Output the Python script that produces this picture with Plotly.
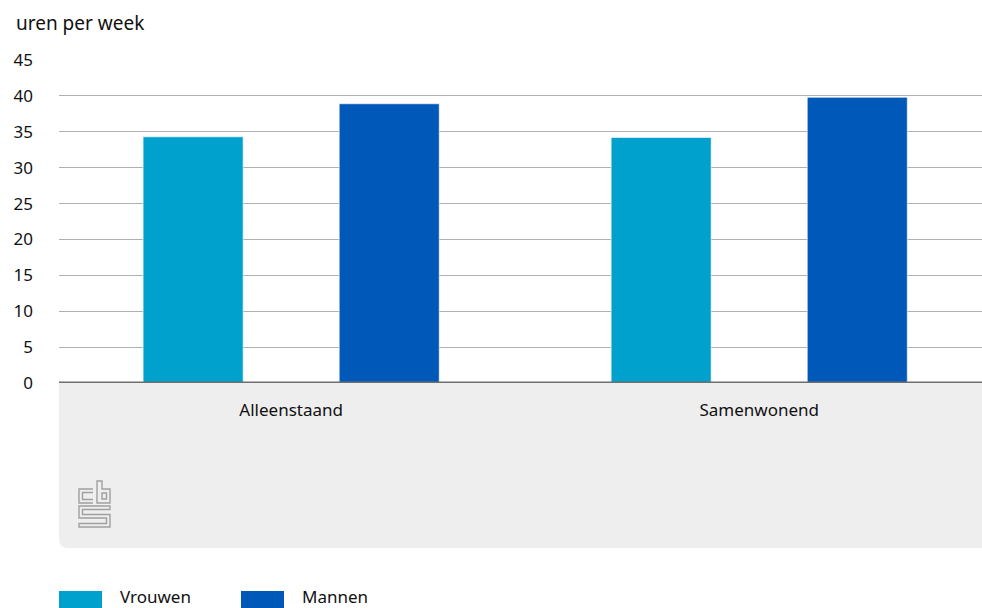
import plotly.graph_objects as go

categories = ["Alleenstaand", "Samenwonend"]
vrouwen = [34.3, 34.2]
mannen = [38.9, 39.8]
series_names = ["Vrouwen", "Mannen"]
y_ticks = [0, 5, 10, 15, 20, 25, 30, 35, 40, 45]

C_V = "#00a1cd"
C_M = "#0058b8"
FONT = "Noto Sans"

W, H = 982, 608
L, R, T, B = 59, 0, 60, 225
PW, PH = W - L - R, H - T - B


def px(x, y):
    return (x - L) / PW, (H - B - y) / PH


fig = go.Figure()
for name, vals, col in [(series_names[0], vrouwen, C_V), (series_names[1], mannen, C_M)]:
    fig.add_trace(go.Bar(
        x=categories, y=vals, name=name, marker_color=col,
        marker_line=dict(width=1, color="rgba(255,255,255,0.6)"),
        showlegend=False,
    ))

shapes = []
# grey box under the axis with rounded bottom-left corner
x0, y0 = px(59, 383)
x1, y1 = px(990, 548)
rx, ry = 9 / PW, 9 / PH
shapes.append(dict(
    type="path", xref="paper", yref="paper", layer="below",
    path=f"M {x0} {y0} L {x1} {y0} L {x1} {y1} L {x0+rx} {y1} Q {x0} {y1} {x0} {y1+ry} Z",
    fillcolor="#eeeeee", line=dict(width=0),
))
# zero line
shapes.append(dict(type="line", xref="paper", yref="y", x0=0, x1=1, y0=0, y1=0,
                   line=dict(color="#6e6e6e", width=3), layer="above"))


# cbs logo (outline strokes)
def pth(points, close=False):
    s = ""
    for i, (a, b) in enumerate(points):
        xa, yb = px(a, b)
        s += ("M " if i == 0 else " L ") + f"{xa} {yb}"
    if close:
        s += " Z"
    return s


logo_col = "#a0a0a0"
logo_paths = [
    pth([(93, 489), (79, 489), (79, 503), (93, 503)]),
    pth([(93, 492.5), (82.5, 492.5), (82.5, 499.5), (93, 499.5)]),
    pth([(97, 481), (102, 481), (102, 489), (110, 489), (110, 503), (97, 503)], close=True),
    pth([(102, 493), (106.5, 493), (106.5, 499), (102, 499)], close=True),
    pth([(110, 506), (79, 506), (79, 518), (106.5, 518), (106.5, 523.5), (79, 523.5), (79, 527),
         (110, 527), (110, 514.5), (82.5, 514.5), (82.5, 509.5), (110, 509.5)], close=True),
]
for p in logo_paths:
    shapes.append(dict(type="path", xref="paper", yref="paper", path=p,
                       line=dict(color=logo_col, width=1.4)))

# legend swatches
annotations = []
for (sx, tx, name, col) in [(59, 118, series_names[0], C_V), (241, 300, series_names[1], C_M)]:
    a0, b0 = px(sx, 591)
    a1, b1 = px(sx + 43, 610)
    shapes.append(dict(type="rect", xref="paper", yref="paper", x0=a0, x1=a1, y0=b0, y1=b1,
                       fillcolor=col, line=dict(width=0)))
    ta, tb = px(tx, 596)
    annotations.append(dict(xref="paper", yref="paper", x=ta, y=tb, text=name, showarrow=False,
                            xanchor="left", yanchor="middle",
                            font=dict(family=FONT, size=17, color="#111111")))

annotations.append(dict(xref="paper", yref="paper", x=px(14, 23)[0], y=px(14, 23)[1],
                        text="uren per week", showarrow=False, xanchor="left", yanchor="middle",
                        font=dict(family=FONT, size=19, color="#111111")))

fig.update_layout(
    width=W, height=H,
    margin=dict(l=L, r=R, t=T, b=B, pad=0),
    paper_bgcolor="white", plot_bgcolor="white",
    barmode="group", bargap=0.162, bargroupgap=0.49,
    font=dict(family=FONT, size=17, color="#111111"),
    shapes=shapes, annotations=annotations,
    xaxis=dict(range=[-0.496, 1.476], showgrid=False, zeroline=False, showline=False,
               ticks="", ticklabelstandoff=15, tickfont=dict(size=17, color="#111111")),
    yaxis=dict(range=[0, 45], tickvals=y_ticks, showgrid=True, gridcolor="#b0b0b0",
               gridwidth=1.3, zeroline=False, showline=False, ticks="",
               ticklabelstandoff=25, tickfont=dict(size=17, color="#111111")),
)

fig.write_html("out.html", post_script="document.body.style.margin='0';",
               config={"displayModeBar": False})
